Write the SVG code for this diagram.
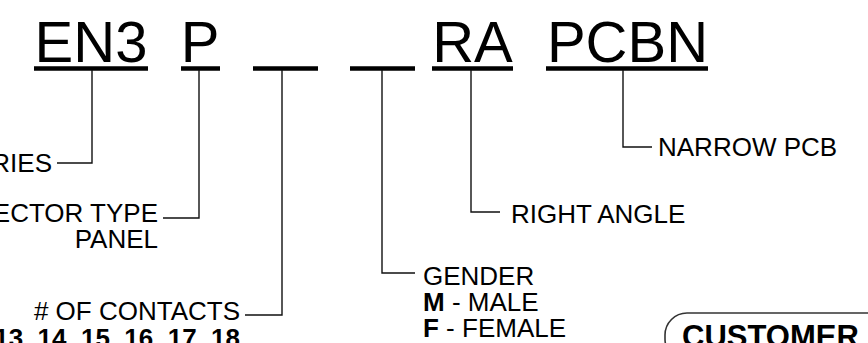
<svg xmlns="http://www.w3.org/2000/svg" width="868" height="343" viewBox="0 0 868 343">
<style>
.code{font-family:"Liberation Sans",Arial,sans-serif;font-size:58px;fill:#000;text-anchor:middle}
.lbl{font-family:"Liberation Sans",Arial,sans-serif;font-size:26px;fill:#000}
.end{text-anchor:end}
.b{font-weight:bold}
.bar{stroke:#000;stroke-width:4.5;fill:none}
.ln{stroke:#111;stroke-width:1.4;fill:none}
</style>
<rect width="868" height="343" fill="#fff"/>
<g id="code">
<text class="code" x="91" y="62">EN3</text>
<text class="code" x="200" y="62">P</text>
<text class="code" x="472.5" y="62">RA</text>
<text class="code" x="627.5" y="62">PCBN</text>
<line class="bar" x1="34" y1="68.5" x2="148" y2="68.5"/>
<line class="bar" x1="181" y1="68.5" x2="220" y2="68.5"/>
<line class="bar" x1="253" y1="68.5" x2="318" y2="68.5"/>
<line class="bar" x1="350" y1="68.5" x2="415" y2="68.5"/>
<line class="bar" x1="432" y1="68.5" x2="513" y2="68.5"/>
<line class="bar" x1="546" y1="68.5" x2="708" y2="68.5"/>
</g>
<g id="connectors">
<polyline class="ln" points="92,70 92,163 57,163"/>
<polyline class="ln" points="199,70 199,218 163,218"/>
<polyline class="ln" points="282,70 282,315 245,315"/>
<polyline class="ln" points="382,70 382,273 415,273"/>
<polyline class="ln" points="471,70 471,212 500,212"/>
<polyline class="ln" points="623,70 623,147 652,147"/>
</g>
<g id="series"><text class="lbl end" x="52" y="172">SERIES</text></g>
<g id="connector-type">
<text class="lbl end" x="158" y="222">CONNECTOR TYPE</text>
<text class="lbl end" x="158" y="248">PANEL</text>
</g>
<g id="contacts">
<text class="lbl end" x="240" y="320"># OF CONTACTS</text>
<text class="lbl end b" x="240" y="347">13, 14, 15, 16, 17, 18</text>
</g>
<g id="gender">
<text class="lbl" x="423" y="285">GENDER</text>
<text class="lbl" x="423" y="311"><tspan class="b">M</tspan> - MALE</text>
<text class="lbl" x="423" y="337"><tspan class="b">F</tspan> - FEMALE</text>
</g>
<g id="right-angle"><text class="lbl" x="511" y="223">RIGHT ANGLE</text></g>
<g id="narrow-pcb"><text class="lbl" x="658" y="156">NARROW PCB</text></g>
<g id="customer">
<rect x="665" y="313" width="260" height="48" rx="22" ry="22" fill="none" stroke="#333" stroke-width="1.6"/>
<text class="lbl b" x="682" y="347" style="font-size:31px">CUSTOMER</text>
</g>
</svg>
